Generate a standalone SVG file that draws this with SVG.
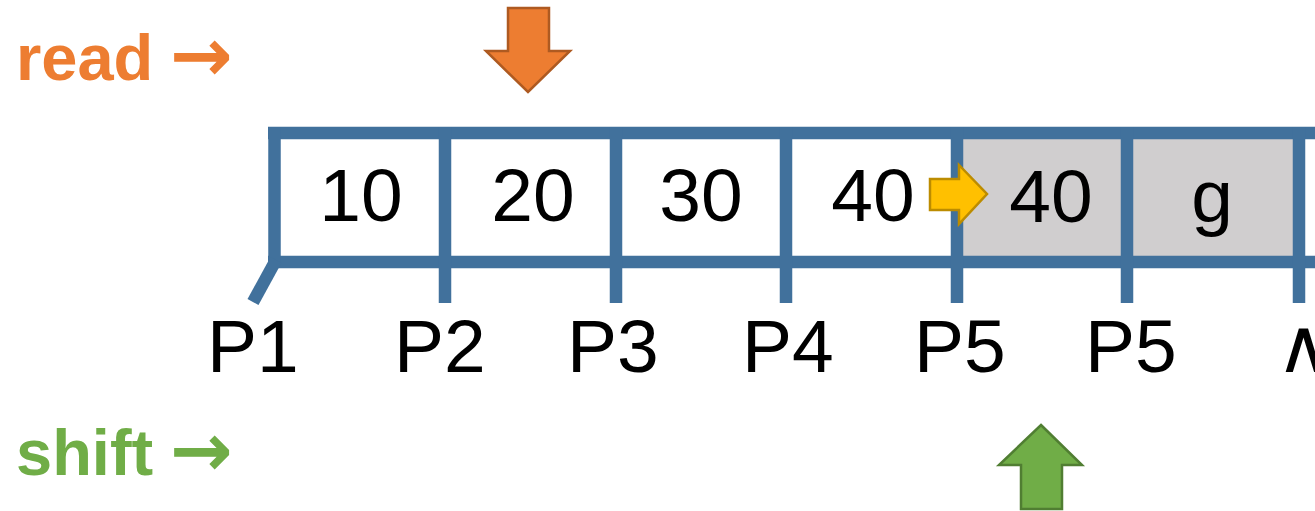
<svg xmlns="http://www.w3.org/2000/svg" width="1315" height="511" viewBox="0 0 1315 511">
  <style>
    .bar { stroke: #41719C; stroke-width: 12.5; fill: none; stroke-linecap: butt; }
    .val { font-family: "Liberation Sans", Arial, sans-serif; font-size: 75px; fill: #000; text-anchor: middle; }
    .ptr { font-family: "Liberation Sans", Arial, "DejaVu Sans", sans-serif; font-size: 75px; fill: #000; }
    .tag { font-family: "Liberation Sans", Arial, "DejaVu Sans", sans-serif; font-size: 65px; font-weight: bold; }
    .arr { font-family: "DejaVu Sans", sans-serif; font-size: 75px; font-weight: bold; }
    .read { fill: #ED7D31; }
    .shift { fill: #70AD47; }
  </style>

  <rect width="1315" height="511" fill="#FFFFFF"/>

  <!-- shaded cells: copied slot and tail -->
  <rect x="963" y="139" width="330" height="117" fill="#D0CECF"/>

  <!-- cell frame and pointer ticks -->
  <g id="connectors">
    <path class="bar" d="M268 133 H1315"/>
    <path class="bar" d="M268 262 H1315"/>
    <path class="bar" d="M274.5 127 V264"/>
    <path class="bar" d="M276 260 L253 302"/>
    <path class="bar" d="M445 127 V303"/>
    <path class="bar" d="M616 127 V303"/>
    <path class="bar" d="M786 127 V303"/>
    <path class="bar" d="M957 127 V303"/>
    <path class="bar" d="M1127 127 V303"/>
    <path class="bar" d="M1299 127 V303"/>
  </g>

  <!-- cell values -->
  <g id="cell1"><text class="val" x="361" y="221">10</text></g>
  <g id="cell2"><text class="val" x="533" y="221">20</text></g>
  <g id="cell3"><text class="val" x="701" y="221">30</text></g>
  <g id="cell4"><text class="val" x="873" y="221">40</text></g>
  <g id="cell5"><text class="val" x="1051" y="222">40</text></g>
  <g id="cell6"><text class="val" x="1212" y="222">g</text></g>

  <!-- pointer labels -->
  <g id="pointers">
    <text class="ptr" x="207" y="372">P1</text>
    <text class="ptr" x="394" y="372">P2</text>
    <text class="ptr" x="567" y="372">P3</text>
    <text class="ptr" x="742" y="372">P4</text>
    <text class="ptr" x="914" y="372">P5</text>
    <text class="ptr" x="1085" y="372">P5</text>
    <text class="ptr" x="1276" y="372">∧</text>
  </g>

  <!-- legend -->
  <g id="legend-read"><text class="tag read" x="16" y="80">read <tspan class="arr" x="170" y="81">→</tspan></text></g>
  <g id="legend-shift"><text class="tag shift" x="16" y="475">shift <tspan class="arr" x="170" y="476">→</tspan></text></g>

  <!-- read cursor -->
  <g id="read-arrow">
    <polygon points="508,8 549,8 549,51 570,51 528,92 486,51 508,51" fill="#ED7D31" stroke="#AE5A21" stroke-width="2.5" stroke-linejoin="miter"/>
  </g>

  <!-- copy direction -->
  <g id="copy-arrow">
    <polygon points="930,179 959,179 959,165 987,194 959,224 959,210 930,210" fill="#FFC000" stroke="#BC8C00" stroke-width="2.5"/>
  </g>

  <!-- shift cursor -->
  <g id="shift-arrow">
    <polygon points="1041,425 1082,465 1062,465 1062,509 1021,509 1021,465 999,465" fill="#70AD47" stroke="#507E32" stroke-width="2.5"/>
  </g>
</svg>
